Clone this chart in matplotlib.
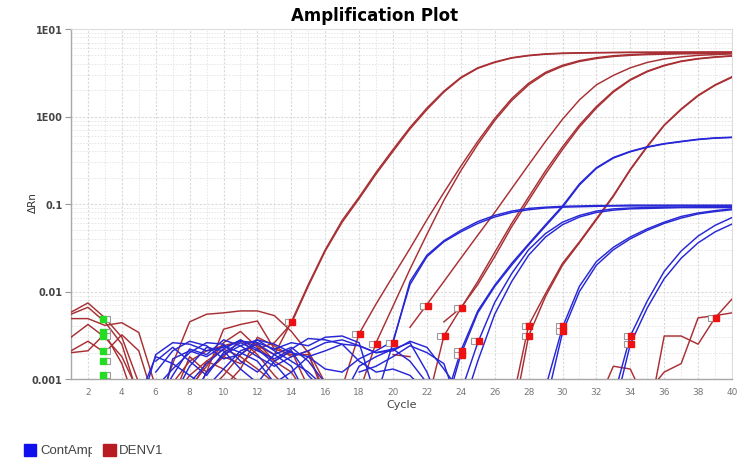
import numpy as np
import matplotlib
matplotlib.use("Agg")
import matplotlib.pyplot as plt
from matplotlib.patches import Rectangle
from matplotlib.ticker import LogLocator, NullFormatter
from matplotlib.transforms import Bbox

N = np.nan
cycles = np.arange(1, 41)

# DENV1 wells: delta Rn per cycle (nan = negative, not drawable on log axis)
denv1_ct14_a = [0.0058, 0.0074, 0.0050, 0.0030, 0.0009, 0.0004, 0.0009, 0.0016, 0.0021, 0.0024,
                0.0027, 0.0024, 0.0019, 0.0045, 0.012, 0.030, 0.065, 0.12, 0.23, 0.42,
                0.75, 1.25, 1.95, 2.8, 3.6, 4.2, 4.7, 5.0, 5.2, 5.3,
                5.35, 5.38, 5.4, 5.42, 5.43, 5.44, 5.45, 5.45, 5.46, 5.46]
denv1_ct14_b = [0.0049, 0.0049, 0.0041, 0.0044, 0.0034, 0.0008, N, 0.0005, 0.0012, 0.0018,
                0.0015, 0.0022, 0.0026, 0.0043, 0.0115, 0.029, 0.062, 0.115, 0.22, 0.40,
                0.72, 1.2, 1.9, 2.75, 3.55, 4.15, 4.65, 4.95, 5.15, 5.25,
                5.3, 5.34, 5.37, 5.39, 5.4, 5.41, 5.42, 5.42, 5.43, 5.43]
denv1_ct18 = [0.0055, 0.0066, 0.0045, 0.0025, 0.0006, N, 0.0006, 0.0011, 0.0016, 0.0022,
              0.0018, 0.0013, 0.0009, 0.0006, N, N, 0.0008, 0.0033, 0.0072, 0.015,
              0.031, 0.066, 0.135, 0.27, 0.52, 0.95, 1.6, 2.4, 3.2, 3.85,
              4.35, 4.7, 4.95, 5.1, 5.2, 5.25, 5.28, 5.3, 5.32, 5.33]
denv1_ct19 = [0.0030, 0.0042, 0.0030, 0.0018, 0.0007, N, N, N, 0.0007, 0.0011,
              0.0019, 0.0026, 0.0016, 0.0021, 0.0008, N, N, 0.0007, 0.0026, 0.0068,
              0.018, 0.045, 0.11, 0.24, 0.48, 0.9, 1.52, 2.3, 3.1, 3.75,
              4.25, 4.6, 4.85, 5.0, 5.1, 5.15, 5.2, 5.22, 5.24, 5.25]
denv1_ct22 = [N, N, N, N, N, 0.0004, 0.0015, 0.0045, 0.0055, 0.0057,
              0.0060, 0.0060, 0.0053, 0.0035, 0.0020, 0.0006, N, N, N, N,
              0.0039, 0.0071, 0.013, 0.024, 0.044, 0.08, 0.15, 0.28, 0.52, 0.93,
              1.55, 2.3, 2.95, 3.6, 4.15, 4.55, 4.8, 5.0, 5.1, 5.2]
denv1_ct23 = [0.0021, 0.0027, 0.0020, 0.0032, 0.0021, 0.0005, N, N, 0.0012, 0.0037,
              0.0042, 0.0046, 0.0022, 0.0019, 0.0019, 0.0007, N, N, N, N,
              N, 0.0005, 0.0031, 0.0064, 0.013, 0.028, 0.06, 0.12, 0.24, 0.45,
              0.80, 1.3, 1.95, 2.65, 3.3, 3.85, 4.3, 4.6, 4.8, 4.95]
denv1_ct24 = [0.0020, 0.0021, 0.0033, 0.0015, 0.0004, N, N, 0.0008, 0.0014, 0.0026,
              0.0035, 0.0023, 0.0016, 0.0012, 0.0006, N, N, N, N, N,
              N, N, 0.0045, 0.0065, 0.012, 0.025, 0.055, 0.11, 0.22, 0.42,
              0.76, 1.25, 1.9, 2.6, 3.25, 3.8, 4.25, 4.55, 4.75, 4.9]
denv1_ct28_a = [N, N, N, N, N, N, 0.0006, 0.0018, 0.0012, 0.0018,
                0.0028, 0.0019, 0.0011, 0.0007, N, N, N, N, N, N,
                N, N, N, N, N, N, 0.0005, 0.0041, 0.0095, 0.021,
                0.037, 0.068, 0.125, 0.25, 0.46, 0.80, 1.22, 1.75, 2.3, 2.85]
denv1_ct28_b = [N, N, N, N, N, N, N, N, N, N,
                N, N, N, N, N, N, N, N, N, N,
                N, N, N, N, N, N, 0.0003, 0.0031, 0.0088, 0.020,
                0.036, 0.066, 0.122, 0.245, 0.45, 0.79, 1.2, 1.72, 2.27, 2.8]
denv1_late_a = [N, N, N, N, N, N, N, N, N, 0.0008,
                0.0013, 0.0030, 0.0024, 0.0018, 0.0021, 0.0009, N, N, N, N,
                N, N, N, N, N, N, N, N, N, N,
                N, N, N, N, 0.0003, 0.0031, 0.0031, 0.0025, 0.0050, 0.0082]
denv1_late_b = [N, N, N, N, N, N, N, 0.0007, 0.0016, 0.0013,
                0.0009, N, N, N, N, N, N, N, N, N,
                N, N, N, N, N, N, N, N, N, N,
                N, N, N, N, 0.0007, 0.0012, 0.0015, 0.0050, 0.0053, 0.0057]
denv1_late_c = [N, N, N, N, N, N, N, N, N, N,
                N, N, N, N, N, N, N, N, N, 0.0019,
                0.0018, N, N, N, N, N, N, N, N, N,
                N, 0.0005, 0.0014, 0.0013, 0.0005, N, N, N, N, N]

# ContAmp (internal control) wells
cont_ct20_a = [N, N, N, N, 0.0004, 0.0019, 0.0026, 0.0025, 0.0021, 0.0023,
               0.0027, 0.0026, 0.0022, 0.0026, 0.0024, 0.0030, 0.0031, 0.0026, 0.0006, 0.0026,
               0.013, 0.026, 0.038, 0.050, 0.063, 0.074, 0.083, 0.089, 0.092, 0.094,
               0.095, 0.096, 0.096, 0.097, 0.097, 0.097, 0.097, 0.097, 0.097, 0.097]
cont_ct20_b = [N, N, N, N, N, 0.0012, 0.0021, 0.0027, 0.0024, 0.0017,
               0.0019, 0.0028, 0.0025, 0.0020, 0.0018, 0.0013, 0.0012, 0.0017, 0.0021, 0.0027,
               0.012, 0.025, 0.037, 0.048, 0.060, 0.071, 0.080, 0.086, 0.090, 0.092,
               0.093, 0.094, 0.095, 0.095, 0.095, 0.095, 0.095, 0.095, 0.095, 0.095]
cont_ct24_a = [N, N, N, N, N, 0.0016, 0.0023, 0.0016, 0.0011, 0.0020,
               0.0026, 0.0021, 0.0017, 0.0022, 0.0029, 0.0028, 0.0025, 0.0024, 0.0020, 0.0022,
               0.0016, 0.0009, 0.0005, 0.0021, 0.0060, 0.0118, 0.021, 0.035, 0.058, 0.095,
               0.17, 0.26, 0.34, 0.40, 0.45, 0.49, 0.52, 0.55, 0.57, 0.58]
cont_ct24_b = [N, N, N, N, N, 0.0008, 0.0013, 0.0020, 0.0026, 0.0025,
               0.0016, 0.0012, 0.0019, 0.0023, 0.0016, 0.0009, 0.0006, 0.0014, 0.0018, 0.0022,
               0.0026, 0.0012, 0.0004, 0.0019, 0.0057, 0.0114, 0.020, 0.034, 0.056, 0.092,
               0.165, 0.255, 0.335, 0.395, 0.445, 0.485, 0.515, 0.545, 0.565, 0.575]
cont_ct25_a = [N, N, N, N, N, 0.0005, 0.0011, 0.0022, 0.0019, 0.0028,
               0.0024, 0.0018, 0.0014, 0.0018, 0.0021, 0.0026, 0.0028, 0.0024, 0.0020, 0.0021,
               0.0027, 0.0023, 0.0013, 0.0007, 0.0026, 0.0075, 0.016, 0.030, 0.046, 0.062,
               0.074, 0.083, 0.088, 0.090, 0.091, 0.092, 0.092, 0.093, 0.093, 0.093]
cont_ct25_b = [N, N, N, N, N, N, 0.0006, 0.0014, 0.0023, 0.0021,
               0.0013, 0.0009, 0.0016, 0.0021, 0.0011, 0.0007, N, 0.0012, 0.0014, 0.0018,
               0.0024, 0.0020, 0.0015, 0.0004, 0.0016, 0.0055, 0.013, 0.026, 0.042, 0.058,
               0.071, 0.080, 0.085, 0.088, 0.089, 0.090, 0.091, 0.091, 0.091, 0.091]
cont_ct30_a = [N, N, N, N, N, 0.0003, 0.0017, 0.0021, 0.0018, 0.0024,
               0.0020, 0.0016, 0.0009, 0.0012, 0.0018, 0.0021, 0.0025, 0.0016, 0.0012, 0.0013,
               0.0011, 0.0007, N, N, N, N, N, N, 0.0008, 0.0039,
               0.0115, 0.022, 0.032, 0.042, 0.052, 0.062, 0.072, 0.079, 0.084, 0.088]
cont_ct30_b = [N, N, N, N, N, N, 0.0004, 0.0009, 0.0015, 0.0022,
               0.0028, 0.0022, 0.0015, 0.0009, N, N, N, N, N, N,
               N, N, N, N, N, N, N, N, 0.0005, 0.0034,
               0.010, 0.020, 0.030, 0.040, 0.050, 0.060, 0.069, 0.077, 0.082, 0.086]
cont_ct34_a = [N, N, N, N, N, N, N, 0.0005, 0.0012, 0.0019,
               0.0024, 0.0028, 0.0021, 0.0016, 0.0012, 0.0008, N, N, N, N,
               N, N, N, N, N, N, N, N, N, N,
               N, N, 0.0006, 0.0031, 0.0078, 0.017, 0.029, 0.043, 0.057, 0.070]
cont_ct34_b = [N, N, N, N, 0.0006, 0.0018, 0.0015, 0.0011, 0.0008, 0.0013,
               0.0021, 0.0025, 0.0019, 0.0014, 0.0006, N, N, N, N, N,
               N, N, N, N, N, N, N, N, N, N,
               N, N, 0.0004, 0.0025, 0.0065, 0.014, 0.024, 0.036, 0.048, 0.059]

denv1_curves = [denv1_ct14_a, denv1_ct14_b, denv1_ct18, denv1_ct19, denv1_ct22,
                denv1_ct23, denv1_ct24, denv1_ct28_a, denv1_ct28_b,
                denv1_late_a, denv1_late_b, denv1_late_c]
cont_curves = [cont_ct20_a, cont_ct20_b, cont_ct24_a, cont_ct24_b, cont_ct25_a,
               cont_ct25_b, cont_ct30_a, cont_ct30_b, cont_ct34_a, cont_ct34_b]

# baseline start flags and threshold-crossing flags
baseline_cycle = 2.9
baseline_values = [0.0048, 0.0034, 0.0031, 0.0021, 0.0016, 0.0011]
ct_cycles = [14, 18, 19, 20, 22, 23, 24, 24, 24, 25, 28, 28, 30, 30, 34, 34, 39]
ct_values = [0.0045, 0.0033, 0.0025, 0.0026, 0.0068, 0.0031, 0.0065, 0.0021, 0.0019,
             0.0027, 0.0040, 0.0031, 0.0040, 0.0035, 0.0031, 0.0025, 0.0050]

x_ticks = list(range(2, 41, 2))
y_ticks = [0.001, 0.01, 0.1, 1, 10]
y_tick_labels = ["0.001", "0.01", "0.1", "1E00", "1E01"]
legend_labels = ["ContAmp", "DENV1"]

RED = "#a83034"
BLUE = "#2727d6"

fig = plt.figure(figsize=(7.4, 4.64), dpi=100)
ax = fig.add_axes([71 / 740, 1 - 380 / 464, (732 - 71) / 740, 350 / 464])
ax.set_yscale("log")
ax.set_xlim(1, 40)
ax.set_ylim(0.001, 10)

for curve in denv1_curves:
    ax.plot(cycles, curve, color=RED, lw=1.05, zorder=3)
for curve in cont_curves:
    ax.plot(cycles, curve, color=BLUE, lw=1.05, zorder=4)

ax.plot([c + 0.2 for c in [baseline_cycle] * len(baseline_values)], baseline_values,
        ls="none", marker="s", ms=4.2, mfc="white", mec="#9a9a9a", mew=0.8, zorder=5)
ax.plot([baseline_cycle] * len(baseline_values), baseline_values,
        ls="none", marker="s", ms=4.2, mfc="#22dd22", mec="#22dd22", zorder=6)
ax.plot([c - 0.22 for c in ct_cycles], ct_values,
        ls="none", marker="s", ms=4.2, mfc="white", mec="#9a9a9a", mew=0.8, zorder=5)
ax.plot([c + 0.05 for c in ct_cycles], ct_values,
        ls="none", marker="s", ms=4.2, mfc="#ee1111", mec="#ee1111", zorder=6)

ax.set_xticks(x_ticks)
ax.set_xticks(range(1, 41), minor=True)
ax.set_yticks(y_ticks)
ax.set_yticklabels(y_tick_labels)
ax.yaxis.set_minor_locator(LogLocator(base=10, subs=range(2, 10)))
ax.yaxis.set_minor_formatter(NullFormatter())

ax.grid(which="major", color="#d9d9d9", ls=(0, (2, 1.5)), lw=0.8)
ax.grid(which="minor", color="#e6e6e6", ls=(0, (1.5, 1.5)), lw=0.7)
ax.set_axisbelow(True)
ax.tick_params(which="minor", length=0)
ax.tick_params(axis="x", which="major", length=0, pad=6, labelsize=6.5, labelcolor="#777777")
ax.tick_params(axis="y", which="major", length=4, width=0.8, color="#999999", pad=2,
               labelsize=7, labelcolor="#444444")
for lab in ax.get_yticklabels():
    lab.set_fontweight("bold")

for side in ["left", "bottom"]:
    ax.spines[side].set_color("#a8a8a8")
    ax.spines[side].set_linewidth(1.0)
for side in ["top", "right"]:
    ax.spines[side].set_color("#dddddd")
    ax.spines[side].set_linewidth(0.8)

fig.text(375 / 740, 1 - 16 / 464, "Amplification Plot", ha="center", va="center",
         fontsize=12, fontweight="bold")
fig.text(33 / 740, 1 - 203 / 464, "ΔRn", ha="center", va="center", rotation=90,
         fontsize=7.5, color="#333333")
fig.text(402 / 740, 1 - 405 / 464, "Cycle", ha="center", va="center",
         fontsize=8, color="#444444")

# legend swatches along the bottom
fig.add_artist(Rectangle((24 / 740, 1 - 457 / 464), 12 / 740, 12 / 464,
                         transform=fig.transFigure, color="#1010ee"))
fig.add_artist(Rectangle((103 / 740, 1 - 457 / 464), 13 / 740, 12 / 464,
                         transform=fig.transFigure, color="#b81c22"))
t1 = fig.text(40 / 740, 1 - 451 / 464, legend_labels[0], ha="left", va="center",
              fontsize=9.5, family="Liberation Sans", color="#444444")
t1.set_clip_box(Bbox.from_extents(0, 0, 92, 464))
t1.set_clip_on(True)
fig.text(119 / 740, 1 - 451 / 464, legend_labels[1], ha="left", va="center",
         fontsize=9.5, family="Liberation Sans", color="#444444")

fig.savefig("out.png", dpi=100)
